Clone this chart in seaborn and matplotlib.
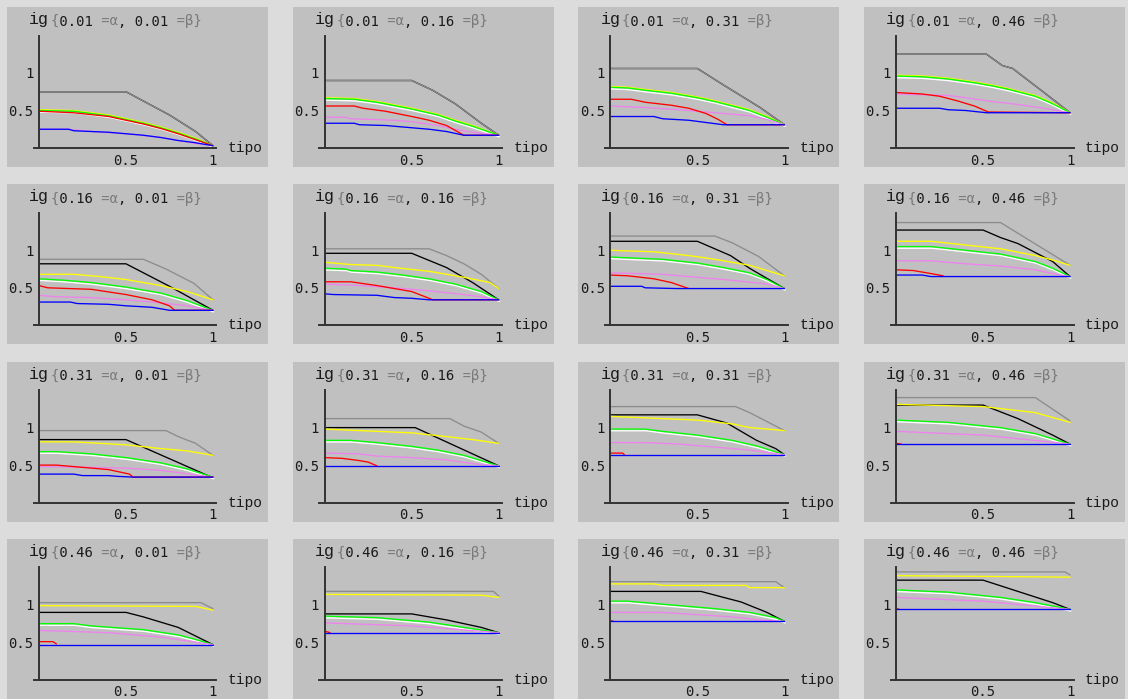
import matplotlib
matplotlib.use('Agg')
import matplotlib.pyplot as plt
import matplotlib.patheffects as pe
from matplotlib.patches import Rectangle
import seaborn as sns
import pandas as pd

sns.set_style('white')

ALPHAS = ['0.01', '0.16', '0.31', '0.46']
BETAS = ['0.01', '0.16', '0.31', '0.46']
XTICKS = [0.5, 1.0]
XTICKLABELS = ['0.5', '1']
YTICKS = [0.5, 1.0]
YTICKLABELS = ['0.5', '1']
XLABEL = 'tipo'
YLABEL = 'ig'

# one entry per panel, row-major (alpha rows, beta columns); each is a list of (tipo, ig) points
gray = [
    [(0, .75), (.5, .75), (.75, .44), (.9, .22), (1, .03)],
    [(0, .9), (.5, .9), (.62, .77), (.75, .59), (.9, .33), (1, .17)],
    [(0, 1.06), (.5, 1.06), (.65, .84), (.86, .54), (1, .31)],
    [(0, 1.25), (.52, 1.25), (.61, 1.1), (.67, 1.06), (.85, .74), (1, .47)],
    [(0, .88), (.6, .88), (.73, .75), (.89, .56), (1, .34)],
    [(0, 1.02), (.6, 1.02), (.7, .93), (.8, .82), (.9, .68), (1, .49)],
    [(0, 1.19), (.6, 1.19), (.7, 1.1), (.85, .92), (1, .66)],
    [(0, 1.37), (.6, 1.37), (1, .8)],
    [(0, .96), (.73, .96), (.8, .88), (.9, .79), (1, .63)],
    [(0, 1.12), (.72, 1.12), (.8, 1.02), (.9, .94), (1, .79)],
    [(0, 1.28), (.72, 1.28), (.8, 1.2), (.9, 1.08), (1, .96)],
    [(0, 1.4), (.8, 1.4), (1, 1.09)],
    [(0, 1.03), (.93, 1.03), (1, .95)],
    [(0, 1.18), (.97, 1.18), (1, 1.12)],
    [(0, 1.31), (.95, 1.31), (1, 1.23)],
    [(0, 1.44), (.97, 1.44), (1, 1.4)],
]
black = [
    [(0, .75), (.5, .75), (.75, .44), (.9, .22), (1, .03)],
    [(0, .9), (.5, .9), (.62, .77), (.75, .59), (.9, .33), (1, .17)],
    [(0, 1.06), (.5, 1.06), (.65, .84), (.86, .54), (1, .31)],
    [(0, 1.25), (.52, 1.25), (.61, 1.1), (.67, 1.06), (.85, .74), (1, .47)],
    [(0, .82), (.5, .82), (.75, .52), (1, .2)],
    [(0, .96), (.5, .96), (.7, .77), (.85, .57), (1, .34)],
    [(0, 1.12), (.5, 1.12), (.69, .93), (.8, .76), (1, .49)],
    [(0, 1.27), (.5, 1.27), (.6, 1.17), (.7, 1.09), (.8, .97), (.9, .85), (1, .65)],
    [(0, .84), (.5, .84), (1, .33)],
    [(0, 1.0), (.52, 1.0), (1, .49)],
    [(0, 1.17), (.5, 1.17), (.67, 1.06), (.84, .83), (.95, .72), (1, .64)],
    [(0, 1.3), (.5, 1.3), (.7, 1.12), (.9, .9), (1, .78)],
    [(0, .9), (.5, .9), (.6, .84), (.8, .7), (1, .47)],
    [(0, .88), (.5, .88), (.7, .8), (.9, .7), (1, .63)],
    [(0, 1.18), (.52, 1.18), (.65, 1.1), (.75, 1.04), (.9, .9), (1, .78)],
    [(0, 1.33), (.5, 1.33), (.7, 1.18), (.9, 1.03), (1, .94)],
]
yellow = [
    [(0, .51), (.2, .5), (.4, .44), (.5, .39), (.6, .34), (.7, .28), (.8, .21), (.9, .13), (1, .03)],
    [(0, .67), (.17, .66), (.3, .62), (.5, .53), (.65, .45), (.75, .37), (.85, .3), (1, .17)],
    [(0, .82), (.1, .81), (.2, .78), (.35, .74), (.5, .68), (.6, .63), (.7, .57), (.8, .51), (.9, .42), (1, .31)],
    [(0, .97), (.15, .96), (.3, .93), (.45, .88), (.55, .84), (.65, .79), (.8, .7), (.9, .6), (1, .47)],
    [(0, .68), (.2, .68), (.35, .65), (.5, .61), (.7, .53), (.85, .45), (1, .34)],
    [(0, .84), (.15, .81), (.3, .8), (.4, .77), (.6, .72), (.8, .64), (.95, .57), (1, .49)],
    [(0, 1.0), (.25, .98), (.45, .93), (.6, .88), (.8, .8), (.9, .73), (1, .66)],
    [(0, 1.12), (.2, 1.12), (.4, 1.07), (.6, 1.02), (.8, .93), (.9, .87), (1, .8)],
    [(0, .81), (.2, .81), (.5, .77), (.7, .72), (.85, .69), (1, .63)],
    [(0, .98), (.2, .96), (.5, .93), (.7, .88), (.85, .84), (1, .79)],
    [(0, 1.15), (.3, 1.12), (.5, 1.1), (.7, 1.05), (.8, 1.0), (.9, .98), (1, .96)],
    [(0, 1.31), (.5, 1.28), (.8, 1.2), (1, 1.07)],
    [(0, .99), (.9, .98), (1, .93)],
    [(0, 1.14), (.9, 1.13), (1, 1.1)],
    [(0, 1.28), (.25, 1.28), (.3, 1.26), (.78, 1.26), (.8, 1.23), (1, 1.23)],
    [(0, 1.39), (.5, 1.38), (1, 1.37)],
]
green = [
    [(0, .5), (.2, .49), (.4, .43), (.5, .38), (.6, .33), (.7, .27), (.8, .2), (.9, .12), (1, .03)],
    [(0, .66), (.17, .65), (.3, .61), (.5, .52), (.65, .44), (.75, .36), (.85, .29), (1, .17)],
    [(0, .81), (.1, .8), (.2, .77), (.35, .73), (.5, .67), (.6, .62), (.7, .56), (.8, .5), (.9, .41), (1, .31)],
    [(0, .96), (.15, .95), (.3, .92), (.45, .87), (.55, .83), (.65, .78), (.8, .69), (.9, .59), (1, .47)],
    [(0, .62), (.15, .6), (.3, .57), (.5, .51), (.7, .43), (.85, .33), (1, .2)],
    [(0, .76), (.12, .75), (.15, .73), (.3, .71), (.45, .67), (.6, .62), (.75, .55), (.9, .45), (1, .34)],
    [(0, .91), (.3, .88), (.5, .83), (.65, .77), (.8, .7), (.9, .61), (1, .49)],
    [(0, 1.05), (.2, 1.05), (.4, 1.0), (.6, .95), (.8, .85), (.9, .76), (1, .65)],
    [(0, .68), (.1, .68), (.3, .65), (.5, .6), (.7, .53), (.85, .45), (1, .34)],
    [(0, .83), (.15, .83), (.3, .8), (.5, .75), (.65, .7), (.8, .63), (.9, .56), (1, .49)],
    [(0, .98), (.2, .98), (.3, .95), (.5, .9), (.7, .83), (.85, .75), (1, .64)],
    [(0, 1.1), (.3, 1.07), (.6, 1.0), (.8, .92), (1, .78)],
    [(0, .75), (.2, .75), (.3, .72), (.6, .67), (.8, .6), (.9, .54), (1, .47)],
    [(0, .85), (.3, .83), (.6, .77), (.8, .7), (1, .63)],
    [(0, 1.05), (.1, 1.05), (.25, 1.02), (.4, .99), (.6, .95), (.8, .9), (.95, .83), (1, .78)],
    [(0, 1.2), (.3, 1.17), (.6, 1.1), (.8, 1.03), (1, .94)],
]
violet = [
    [(0, .25), (.17, .25), (.3, .22), (.5, .19), (.7, .14), (.8, .1), (.9, .06), (1, .03)],
    [(0, .41), (.12, .41), (.15, .39), (.4, .37), (.5, .35), (.65, .3), (.75, .25), (.85, .21), (1, .17)],
    [(0, .56), (.2, .54), (.4, .51), (.6, .47), (.8, .43), (.9, .38), (1, .31)],
    [(0, .72), (.3, .7), (.4, .67), (.55, .62), (.7, .58), (.85, .53), (1, .47)],
    [(0, .4), (.1, .38), (.3, .37), (.5, .34), (.7, .3), (.85, .26), (1, .2)],
    [(0, .55), (.2, .53), (.4, .5), (.6, .46), (.8, .41), (.9, .38), (1, .34)],
    [(0, .7), (.3, .68), (.5, .64), (.7, .6), (.9, .55), (1, .49)],
    [(0, .86), (.2, .86), (.4, .82), (.6, .79), (.8, .74), (.9, .69), (1, .65)],
    [(0, .48), (.3, .47), (.5, .46), (.7, .43), (.9, .37), (1, .34)],
    [(0, .66), (.2, .65), (.3, .62), (.5, .6), (.7, .57), (.85, .52), (1, .49)],
    [(0, .8), (.2, .8), (.4, .78), (.6, .74), (.8, .7), (.9, .67), (1, .64)],
    [(0, .95), (.5, .9), (1, .78)],
    [(0, .66), (.4, .63), (.7, .57), (1, .47)],
    [(0, .76), (.5, .72), (1, .63)],
    [(0, .9), (.3, .9), (.5, .87), (.7, .84), (.85, .8), (1, .78)],
    [(0, 1.1), (.5, 1.05), (1, .94)],
]
red = [
    [(0, .49), (.2, .47), (.4, .42), (.5, .37), (.6, .32), (.7, .26), (.8, .19), (.9, .11), (1, .03)],
    [(0, .56), (.17, .56), (.22, .53), (.35, .49), (.5, .42), (.6, .37), (.7, .3), (.8, .17), (1, .17)],
    [(0, .65), (.12, .65), (.2, .61), (.35, .57), (.45, .53), (.55, .46), (.62, .38), (.67, .31), (1, .31)],
    [(0, .74), (.15, .72), (.25, .69), (.35, .63), (.45, .56), (.53, .48), (1, .47)],
    [(0, .53), (.05, .5), (.3, .48), (.5, .41), (.65, .34), (.75, .26), (.78, .2), (1, .2)],
    [(0, .58), (.15, .58), (.3, .53), (.5, .45), (.6, .36), (.62, .34), (1, .34)],
    [(0, .67), (.1, .66), (.25, .62), (.35, .57), (.45, .49)],
    [(0, .74), (.1, .73), (.2, .69), (.27, .66)],
    [(0, .5), (.1, .5), (.25, .47), (.4, .44), (.52, .38), (.54, .34), (1, .34)],
    [(0, .6), (.1, .59), (.2, .56), (.25, .54), (.3, .49)],
    [(0, .66), (.07, .66), (.08, .64)],
    [(0, .79), (.03, .78)],
    [(0, .51), (.08, .51), (.1, .48)],
    [(0, .65), (.03, .63)],
    [(0, .79), (.02, .78)],
    [(0, .95), (.02, .94)],
]
blue = [
    [(0, .25), (.17, .25), (.2, .23), (.4, .21), (.5, .19), (.6, .17), (.7, .14), (.8, .1), (.9, .07), (1, .03)],
    [(0, .33), (.17, .33), (.2, .31), (.35, .3), (.5, .27), (.6, .25), (.7, .22), (.8, .17), (1, .17)],
    [(0, .42), (.25, .42), (.3, .39), (.45, .37), (.55, .34), (.65, .31), (1, .31)],
    [(0, .53), (.25, .53), (.3, .51), (.4, .5), (.52, .47), (1, .47)],
    [(0, .31), (.18, .31), (.22, .29), (.4, .28), (.5, .26), (.65, .24), (.75, .2), (1, .2)],
    [(0, .42), (.05, .41), (.3, .4), (.4, .37), (.5, .36), (.6, .34), (1, .34)],
    [(0, .52), (.18, .52), (.2, .5), (.38, .49), (1, .49)],
    [(0, .67), (.15, .67), (.2, .65), (1, .65)],
    [(0, .38), (.2, .38), (.25, .36), (.4, .36), (.45, .35), (.54, .34), (1, .34)],
    [(0, .49), (1, .49)],
    [(0, .64), (1, .64)],
    [(0, .78), (1, .78)],
    [(0, .47), (1, .47)],
    [(0, .63), (1, .63)],
    [(0, .78), (1, .78)],
    [(0, .94), (1, .94)],
]

SERIES = [
    (black, '#000000'),
    (gray, '#8c8c8c'),
    (yellow, '#ffff00'),
    (green, '#00ff00'),
    (violet, '#ee82ee'),
    (red, '#ff0000'),
    (blue, '#0000ff'),
]

W, H = 1128, 699
fig = plt.figure(figsize=(W / 100, H / 100), dpi=100, facecolor='#dcdcdc')

PANEL_W, PANEL_H = 261, 160
X0, Y0 = 7, 7
DX, DY = 285.7, 177.3
UX, UY = 174.0, 75.0          # pixels per data unit
XMIN, XMAX, YMAX = -0.03, 1.02, 1.5

mono = 'DejaVu Sans Mono'
cour = 'Liberation Mono'
txt = '#1a1a1a'
gtxt = '#7a7a7a'

for r, a in enumerate(ALPHAS):
    for c, b in enumerate(BETAS):
        idx = r * 4 + c
        L = X0 + c * DX
        T = Y0 + r * DY
        fig.add_artist(Rectangle((L / W, 1 - (T + PANEL_H) / H), PANEL_W / W, PANEL_H / H,
                                 transform=fig.transFigure, facecolor='#c0c0c0',
                                 edgecolor='none', zorder=0))
        ox = L + 32
        oy = T + 141
        ax = fig.add_axes([(ox + XMIN * UX) / W, 1 - oy / H, (XMAX - XMIN) * UX / W, YMAX * UY / H])
        ax.patch.set_visible(False)
        ax.set_xlim(XMIN, XMAX)
        ax.set_ylim(0, YMAX)

        for data, col in SERIES:
            pts = data[idx]
            df = pd.DataFrame(pts, columns=['tipo', 'ig'])
            kw = {}
            if col == '#00ff00':
                kw['path_effects'] = [pe.SimpleLineShadow(offset=(0.5, -1.2), shadow_color='white',
                                                          alpha=1.0, rho=1.0),
                                      pe.Normal()]
            sns.lineplot(data=df, x='tipo', y='ig', ax=ax, color=col, lw=0.95,
                         sort=False, estimator=None, legend=False, **kw)

        ax.set_xlabel('')
        ax.set_ylabel('')
        for s in ['top', 'right']:
            ax.spines[s].set_visible(False)
        ax.spines['left'].set_position(('data', 0))
        for s in ['left', 'bottom']:
            ax.spines[s].set_color('#333333')
            ax.spines[s].set_linewidth(1.4)
        ax.set_xticks(XTICKS)
        ax.set_xticklabels(XTICKLABELS)
        ax.set_yticks(YTICKS)
        ax.set_yticklabels(YTICKLABELS)
        ax.tick_params(direction='in', length=3, width=1, colors='#333333',
                       labelcolor=txt, labelsize=10, pad=4)
        for lab in ax.get_xticklabels() + ax.get_yticklabels():
            lab.set_fontfamily(mono)

        ax.text(1.085, 0.0, XLABEL, transform=ax.transData, ha='left', va='center',
                fontsize=10.5, family=cour, color=txt, clip_on=False)

        # title
        ty = 1 - (T + 18.5) / H
        fig.text((L + 22) / W, 1 - (T + 17) / H, YLABEL, ha='left', va='baseline',
                 fontsize=12, family=cour, color=txt)
        full_gray = '{     =\u03b1       =\u03b2}'
        full_black = ' ' + a + '   , ' + b + '    '
        fig.text((L + 44) / W, ty, full_gray, ha='left', va='baseline',
                 fontsize=10, family=mono, color=gtxt)
        fig.text((L + 44) / W, ty, full_black, ha='left', va='baseline',
                 fontsize=10, family=mono, color=txt)

fig.savefig('out.png', dpi=100, facecolor=fig.get_facecolor())
